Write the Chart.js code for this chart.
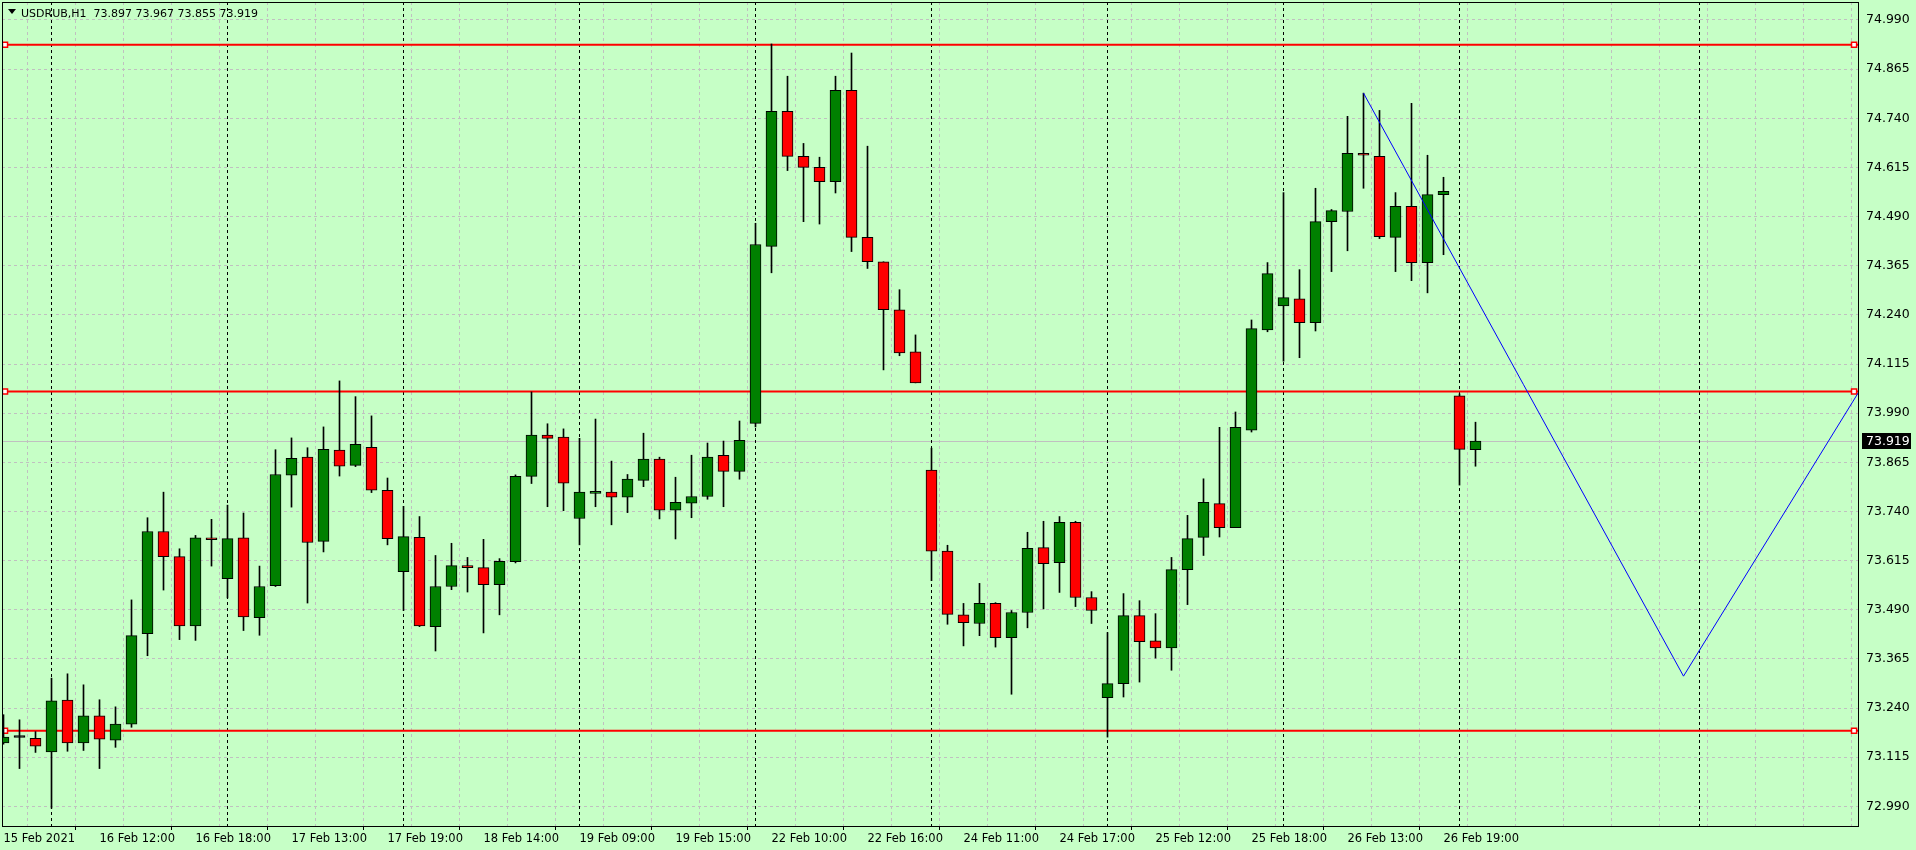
<!DOCTYPE html>
<html>
<head>
<meta charset="utf-8">
<script src="https://cdn.jsdelivr.net/npm/chart.js@4/dist/chart.umd.min.js"></script>
<style>
html,body{margin:0;padding:0;background:#C6FFC6;overflow:hidden;}
canvas{display:block;}
</style>
</head>
<body>
<canvas id="c" width="1916" height="850"></canvas>
<script>
// ---- data ----
const symbolTitle = "USDRUB,H1";
const barTimes = [
"15 Feb 17:00","15 Feb 18:00","15 Feb 19:00",
"16 Feb 09:00","16 Feb 10:00","16 Feb 11:00","16 Feb 12:00","16 Feb 13:00","16 Feb 14:00","16 Feb 15:00","16 Feb 16:00","16 Feb 17:00","16 Feb 18:00","16 Feb 19:00",
"17 Feb 09:00","17 Feb 10:00","17 Feb 11:00","17 Feb 12:00","17 Feb 13:00","17 Feb 14:00","17 Feb 15:00","17 Feb 16:00","17 Feb 17:00","17 Feb 18:00","17 Feb 19:00",
"18 Feb 09:00","18 Feb 10:00","18 Feb 11:00","18 Feb 12:00","18 Feb 13:00","18 Feb 14:00","18 Feb 15:00","18 Feb 16:00","18 Feb 17:00","18 Feb 18:00","18 Feb 19:00",
"19 Feb 09:00","19 Feb 10:00","19 Feb 11:00","19 Feb 12:00","19 Feb 13:00","19 Feb 14:00","19 Feb 15:00","19 Feb 16:00","19 Feb 17:00","19 Feb 18:00","19 Feb 19:00",
"22 Feb 09:00","22 Feb 10:00","22 Feb 11:00","22 Feb 12:00","22 Feb 13:00","22 Feb 14:00","22 Feb 15:00","22 Feb 16:00","22 Feb 17:00","22 Feb 18:00","22 Feb 19:00",
"24 Feb 09:00","24 Feb 10:00","24 Feb 11:00","24 Feb 12:00","24 Feb 13:00","24 Feb 14:00","24 Feb 15:00","24 Feb 16:00","24 Feb 17:00","24 Feb 18:00","24 Feb 19:00",
"25 Feb 09:00","25 Feb 10:00","25 Feb 11:00","25 Feb 12:00","25 Feb 13:00","25 Feb 14:00","25 Feb 15:00","25 Feb 16:00","25 Feb 17:00","25 Feb 18:00","25 Feb 19:00",
"26 Feb 09:00","26 Feb 10:00","26 Feb 11:00","26 Feb 12:00","26 Feb 13:00","26 Feb 14:00","26 Feb 15:00","26 Feb 16:00","26 Feb 17:00","26 Feb 18:00","26 Feb 19:00",
"1 Mar 09:00","1 Mar 10:00"
];
const openP = [
73.151,73.165,73.163,73.128,73.260,73.151,73.220,73.158,73.199,73.429,
73.689,73.625,73.449,73.673,73.569,73.673,73.470,73.551,73.832,73.878,
73.664,73.896,73.857,73.903,73.794,73.587,73.674,73.447,73.549,73.601,
73.597,73.554,73.612,73.829,73.934,73.929,73.722,73.786,73.789,73.776,
73.819,73.873,73.743,73.761,73.778,73.883,73.842,73.964,74.414,74.758,
74.643,74.615,74.579,74.811,74.437,74.375,74.253,74.146,73.845,73.639,
73.477,73.455,73.506,73.419,73.483,73.648,73.610,73.712,73.521,73.266,
73.302,73.475,73.411,73.393,73.592,73.674,73.760,73.699,73.947,74.202,
74.263,74.281,74.220,74.477,74.503,74.651,74.643,74.437,74.516,74.373,
74.546,74.034,73.897
];
const highP = [
73.223,73.210,73.180,73.316,73.327,73.299,73.261,73.243,73.515,73.724,
73.789,73.645,73.679,73.720,73.756,73.736,73.601,73.897,73.927,73.902,
73.955,74.072,74.032,73.983,73.825,73.753,73.727,73.628,73.659,73.623,
73.669,73.620,73.833,74.044,73.963,73.950,73.926,73.975,73.868,73.834,
73.939,73.878,73.827,73.883,73.914,73.919,73.970,74.473,74.929,74.847,
74.676,74.641,74.847,74.906,74.669,74.375,74.304,74.189,73.901,73.654,
73.506,73.557,73.508,73.488,73.687,73.715,73.727,73.715,73.536,73.432,
73.531,73.513,73.480,73.623,73.730,73.823,73.954,73.993,74.227,74.373,
74.551,74.355,74.562,74.508,74.745,74.804,74.760,74.551,74.778,74.646,
74.590,74.039,73.967
];
const lowP = [
73.148,73.086,73.127,72.985,73.130,73.132,73.086,73.140,73.191,73.373,
73.540,73.414,73.412,73.601,73.520,73.437,73.425,73.549,73.751,73.507,
73.637,73.830,73.854,73.788,73.655,73.488,73.447,73.385,73.541,73.535,
73.431,73.477,73.609,73.811,73.752,73.742,73.655,73.752,73.706,73.737,
73.803,73.721,73.670,73.724,73.771,73.752,73.822,73.955,74.347,74.607,
74.477,74.471,74.550,74.401,74.358,74.100,74.136,74.067,73.564,73.453,
73.398,73.424,73.395,73.275,73.444,73.492,73.534,73.498,73.455,73.166,
73.268,73.306,73.367,73.336,73.503,73.628,73.675,73.699,73.942,74.197,
74.122,74.131,74.199,74.350,74.403,74.562,74.434,74.350,74.327,74.296,
74.393,73.807,73.855
];
const closeP = [
73.166,73.165,73.143,73.258,73.151,73.220,73.161,73.199,73.424,73.689,
73.625,73.449,73.673,73.668,73.671,73.472,73.549,73.834,73.875,73.661,
73.898,73.855,73.911,73.794,73.671,73.676,73.449,73.549,73.602,73.597,
73.554,73.613,73.829,73.934,73.926,73.812,73.789,73.791,73.776,73.822,
73.873,73.743,73.763,73.778,73.878,73.842,73.921,74.419,74.758,74.643,
74.615,74.579,74.811,74.437,74.375,74.253,74.143,74.067,73.639,73.478,
73.457,73.506,73.419,73.483,73.646,73.607,73.712,73.521,73.488,73.302,
73.475,73.409,73.393,73.592,73.671,73.763,73.699,73.954,74.205,74.345,
74.284,74.220,74.477,74.505,74.651,74.646,74.439,74.516,74.373,74.546,
74.554,73.898,73.919
];
const tickBars = [0,6,12,18,24,30,36,42,48,54,60,66,72,78,84,90];
const tickLabels = ["15 Feb 2021","16 Feb 12:00","16 Feb 18:00","17 Feb 13:00","17 Feb 19:00","18 Feb 14:00","19 Feb 09:00","19 Feb 15:00","22 Feb 10:00","22 Feb 16:00","24 Feb 11:00","24 Feb 17:00","25 Feb 12:00","25 Feb 18:00","26 Feb 13:00","26 Feb 19:00"];
const priceTicks = [72.990,73.115,73.240,73.365,73.490,73.615,73.740,73.865,73.990,74.115,74.240,74.365,74.490,74.615,74.740,74.865,74.990];
const levelLines = [74.927, 74.045, 73.182];
const daySeparators = [3,14,25,36,47,58,69,80,91,106];
const trendX = [85, 105, 116];
const trendY = [74.804, 73.321, 74.047];

// ---- view ----
const xMin = -0.09375, xMax = 115.90625;
const yMin = 72.93989, yMax = 75.03578;
const levelMarkX = [0.094, 115.66];
const gridBars = [];
for (let b = 0; b <= 114; b += 3) gridBars.push(b);
const lastClose = closeP[closeP.length - 1];

const bodyColors = openP.map((o, i) => closeP[i] > o ? '#008000' : (closeP[i] < o ? '#FF0000' : '#000000'));

const datasets = [
  {type:'line', data: trendX.map((x,k)=>({x:x, y:trendY[k]})), borderColor:'#0000FF', borderWidth:1,
   pointRadius:0, tension:0, order:0},
  {type:'bar', data: openP.map((o,i)=>({x:i, y:[o, closeP[i]]})), backgroundColor: bodyColors,
   borderColor:'#000000', borderWidth:1, borderSkipped:false, barThickness:11, grouped:false, minBarLength:2, order:1},
  {type:'bar', data: highP.map((h,i)=>({x:i, y:[lowP[i], h]})), backgroundColor:'#000000',
   borderWidth:0, barThickness:1, grouped:false, order:2}
];
levelLines.forEach(v => {
  datasets.push({type:'line', data:[{x:xMin,y:v},{x:levelMarkX[0],y:v},{x:levelMarkX[1],y:v},{x:xMax,y:v}],
    borderColor:'#FF0000', borderWidth:2, pointStyle:'rect', pointRadius:[0,3.6,3.6,0],
    pointBorderWidth:1.5, pointBorderColor:'#FF0000', pointBackgroundColor:'#FFFFFF', order:3, tension:0});
});

const mt4Plugin = {
  id:'mt4',
  beforeDraw(chart){
    const c = chart.ctx;
    c.save(); c.fillStyle = '#C6FFC6'; c.fillRect(0,0,chart.width,chart.height); c.restore();
  },
  beforeDatasetsDraw(chart){
    const c = chart.ctx, a = chart.chartArea, xs = chart.scales.x, ys = chart.scales.y;
    c.save();
    c.beginPath(); c.rect(a.left, a.top, a.right-a.left, a.bottom-a.top); c.clip();
    // current price line
    const py = Math.round(ys.getPixelForValue(lastClose)) + 0.5;
    c.strokeStyle = '#C0C0C0'; c.lineWidth = 1; c.setLineDash([]);
    c.beginPath(); c.moveTo(a.left, py); c.lineTo(a.right, py); c.stroke();
    // day separators
    c.strokeStyle = '#000000'; c.setLineDash([3,3]);
    daySeparators.forEach(b => {
      const px = Math.floor(xs.getPixelForValue(b)) + 0.5;
      c.beginPath(); c.moveTo(px, a.top); c.lineTo(px, a.bottom); c.stroke();
    });
    c.restore();
  },
  afterDraw(chart){
    const c = chart.ctx, a = chart.chartArea, ys = chart.scales.y;
    c.save();
    // frame
    c.strokeStyle = '#000000'; c.lineWidth = 1; c.setLineDash([]);
    c.strokeRect(a.left + 0.5, a.top + 0.5, a.right - a.left, a.bottom - a.top);
    // header
    c.fillStyle = '#000000';
    c.beginPath(); c.moveTo(8, 9); c.lineTo(16, 9); c.lineTo(12, 14); c.closePath(); c.fill();
    c.font = '11px "DejaVu Sans"'; c.textBaseline = 'alphabetic'; c.textAlign = 'left';
    c.fillText(symbolTitle + '  ' + [openP, highP, lowP, closeP].map(s => s[s.length-1].toFixed(3)).join(' '), 21, 17);
    // current price label
    const py = Math.round(ys.getPixelForValue(lastClose));
    c.fillStyle = '#000000'; c.fillRect(a.right + 4, py - 8, 49, 16);
    c.fillStyle = '#FFFFFF'; c.font = '12.5px "DejaVu Sans"'; c.textBaseline = 'middle';
    c.fillText(lastClose.toFixed(3), a.right + 8, py + 0.5);
    c.restore();
  }
};

new Chart(document.getElementById('c'), {
  data: { datasets },
  options: {
    responsive:false, maintainAspectRatio:false, animation:false, devicePixelRatio:1,
    layout:{ padding:{left:2, top:2, right:0, bottom:0} },
    plugins:{ legend:{display:false}, tooltip:{enabled:false}, title:{display:false} },
    scales:{
      x:{
        type:'linear', position:'bottom', min:xMin, max:xMax, offset:false,
        afterBuildTicks: s => { s.ticks = gridBars.map(v => ({value:v})); },
        afterFit: s => { s.height = 24; s.paddingLeft = 0; s.paddingRight = 0; },
        ticks:{ autoSkip:false, maxRotation:0, minRotation:0, align:'start', padding:2, color:'#000000',
          font:{family:'DejaVu Sans', size:11.5},
          callback: v => { const k = tickBars.indexOf(v); return k >= 0 ? tickLabels[k] : ''; } },
        grid:{ color:'#C0C0C0', lineWidth:1, tickLength:4, tickBorderDash:[],
          tickColor: ctx => (ctx.tick && tickBars.indexOf(ctx.tick.value) >= 0) ? '#000000' : 'rgba(0,0,0,0)' },
        border:{ display:false, dash:[3,3] }
      },
      y:{
        type:'linear', position:'right', min:yMin, max:yMax,
        afterBuildTicks: s => { s.ticks = priceTicks.map(v => ({value:v})); },
        afterFit: s => { s.width = 58; s.paddingTop = 0; s.paddingBottom = 0; },
        ticks:{ autoSkip:false, padding:8, color:'#000000', font:{family:'DejaVu Sans', size:12.5},
          callback: v => v.toFixed(3) },
        grid:{ color:'#C0C0C0', lineWidth:1, drawTicks:false },
        border:{ display:false, dash:[3,3] }
      }
    }
  },
  plugins:[mt4Plugin]
});
</script>
</body>
</html>
